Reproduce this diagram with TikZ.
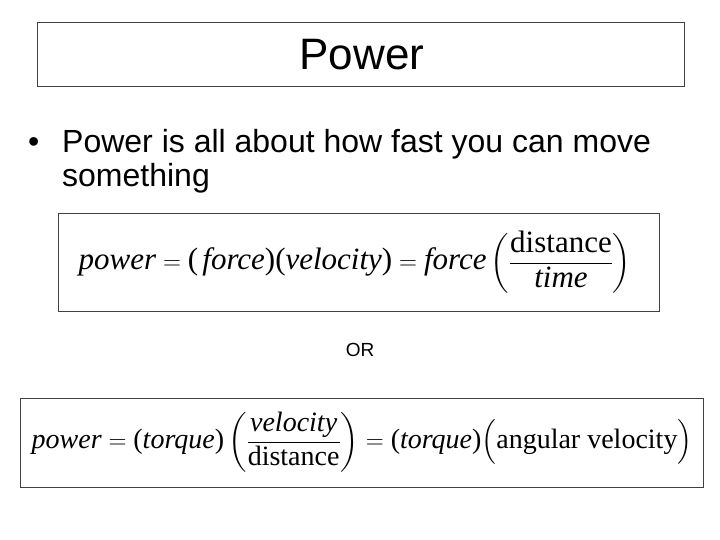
\documentclass[tikz,border=0pt]{standalone}
\usepackage{fontspec}
\usepackage{amsmath}
\setmainfont{Liberation Sans}
\newfontfamily\tms{Liberation Serif}
\newcommand{\ti}[1]{\mbox{\tms\itshape #1}}
\newcommand{\tr}[1]{\mbox{\tms #1}}
\begin{document}
\begin{tikzpicture}[x=1pt,y=-1pt,
  frame/.style={draw=black!75,line width=0.8pt},
  txt/.style={inner sep=0pt,anchor=base west}]
\useasboundingbox (0,0) rectangle (720,540);
\fill[white] (0,0) rectangle (720,540);
\draw[frame] (37,22) rectangle (684,86);
\node[inner sep=0pt,font=\fontsize{44}{48}\selectfont] (title) at (362,55) {Power};
\node[txt,font=\fontsize{32}{36}\selectfont] (bul) at (28,153) {•};
\node[txt,font=\fontsize{32}{36}\selectfont] (l1) at (62,153) {Power is all about how fast you can move};
\node[txt,font=\fontsize{32}{36}\selectfont] (l2) at (62,187) {something};
\draw[frame] (58,213) rectangle (659,311);
\node[inner sep=0pt,font=\fontsize{31}{36}\selectfont] (eq1) at (355,262)
 {$\ti{power}=\tr{(}\,\ti{force}\tr{)(}\ti{velocity}\tr{)}=\ti{force}\left(\dfrac{\tr{distance}}{\ti{time}}\right)$};
\node[inner sep=0pt,font=\fontsize{19}{22}\selectfont] (or) at (360,350) {OR};
\draw[frame] (20,398) rectangle (703,487);
\node[inner sep=0pt,font=\fontsize{28}{32}\selectfont] (eq2) at (362,442)
 {$\ti{power}=\tr{(}\ti{torque}\tr{)}\left(\dfrac{\ti{velocity}}{\tr{distance}}\right)=\tr{(}\ti{torque}\tr{)}\boldsymbol{\Bigl(}\tr{angular velocity}\boldsymbol{\Bigr)}$};
\end{tikzpicture}
\end{document}
